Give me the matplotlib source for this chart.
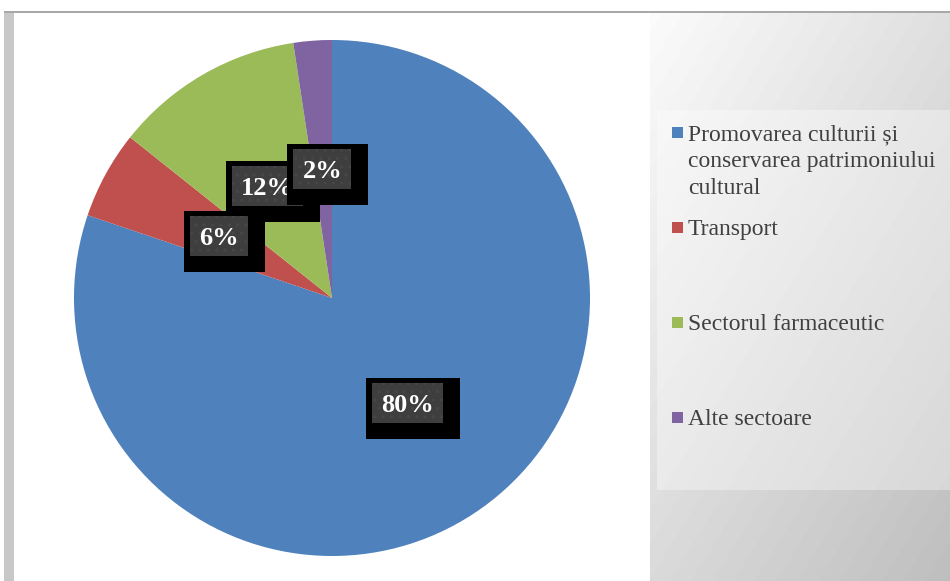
import numpy as np
import matplotlib.pyplot as plt
from matplotlib.patches import Rectangle

categories = ['Promovarea culturii și\nconservarea patrimoniului\ncultural',
              'Transport', 'Sectorul farmaceutic', 'Alte sectoare']
shares = [80.2, 5.5, 11.9, 2.4]
pct_labels = ['80%', '6%', '12%', '2%']
colors = ['#4F81BD', '#C0504D', '#9BBB59', '#8064A2']

W, H = 950, 581
fig = plt.figure(figsize=(9.5, 5.81), dpi=100)
fig.patch.set_facecolor('white')


def px(x0, y0, x1, y1):
    # pixel box (origin top-left) -> figure fraction rect
    return [x0 / W, 1 - y1 / H, (x1 - x0) / W, (y1 - y0) / H]


# frame bits
fig.add_artist(Rectangle((4 / W, 0), 10 / W, 1 - 12 / H, transform=fig.transFigure,
                         facecolor='#c8c8c8', lw=0))
fig.add_artist(Rectangle((4 / W, 1 - 12.5 / H), 946 / W, 1.5 / H, transform=fig.transFigure,
                         facecolor='#a8a8a8', lw=0))

# legend panel (pixel coords)
lax = fig.add_axes(px(650, 12, 950, 581))
gx, gy = np.meshgrid(np.linspace(0, 1, 300), np.linspace(0, 1, 569))
grad = 0.985 - 0.11 * gx - 0.13 * gy
lax.imshow(grad, cmap='gray', vmin=0, vmax=1, extent=(650, 950, 581, 12), aspect='auto')
lax.add_patch(Rectangle((657, 110), 293, 380, facecolor='white', alpha=0.35, lw=0))
lax.set_xlim(650, 950)
lax.set_ylim(581, 12)
lax.axis('off')

for i, (lab, col) in enumerate(zip(categories, colors)):
    yc = 132 + i * 95
    lax.add_patch(Rectangle((672, yc - 5.5), 11, 11, facecolor=col, lw=0))
    for k, line in enumerate(lab.split('\n')):
        lax.text(688, yc + 8 + k * 27, line, fontsize=17, family='Liberation Serif',
                 color='#404040', va='baseline', ha='left')

# pie
ax = fig.add_axes(px(14, 12, 650, 581))
ax.set_facecolor('black')
R = 258
wedges, _ = ax.pie(shares, colors=colors, startangle=90, counterclock=False,
                   radius=1, wedgeprops=dict(linewidth=0))
ax.set_aspect('auto')
ax.set_xlim(-318 / R, 318 / R)
ax.set_ylim(-283 / R, 286 / R)
ax.set_xticks([])
ax.set_yticks([])
for s in ax.spines.values():
    s.set_visible(False)

# data labels: black box with dotted dark-grey box and white bold text
fig.canvas.draw()
renderer = fig.canvas.get_renderer()
inv = ax.transData.inverted()
draw_rank = [0, 2, 1, 3]
fs = 19
em = fs * 100 / 72
for i, w in enumerate(wedges):
    ang = np.deg2rad((w.theta1 + w.theta2) / 2)
    cx, cy = ax.transData.transform((0.5 * np.cos(ang), 0.5 * np.sin(ang)))
    z = 5 + draw_rank[i]
    bx, by = inv.transform((cx, cy - 0.34 * em))
    t = ax.text(bx, by, pct_labels[i], color='white', fontsize=fs, fontweight='bold',
                family='Liberation Serif', ha='center', va='baseline', zorder=z + 0.2)
    tw = t.get_window_extent(renderer).width
    ix0, ix1 = cx - tw / 2 - 9, cx + tw / 2 + 9
    iy0, iy1 = cy - 20, cy + 20
    ox0, oy0 = inv.transform((ix0 - 6, iy0 - 16))
    ox1, oy1 = inv.transform((ix1 + 17, iy1 + 5))
    ax.add_patch(Rectangle((ox0, oy0), ox1 - ox0, oy1 - oy0, facecolor='black', lw=0, zorder=z))
    gx0, gy0 = inv.transform((ix0, iy0))
    gx1, gy1 = inv.transform((ix1, iy1))
    ax.add_patch(Rectangle((gx0, gy0), gx1 - gx0, gy1 - gy0, facecolor='#3e3e3e',
                           edgecolor='#474747', hatch='..', lw=0, zorder=z + 0.1))

fig.savefig('out.png', dpi=100)
